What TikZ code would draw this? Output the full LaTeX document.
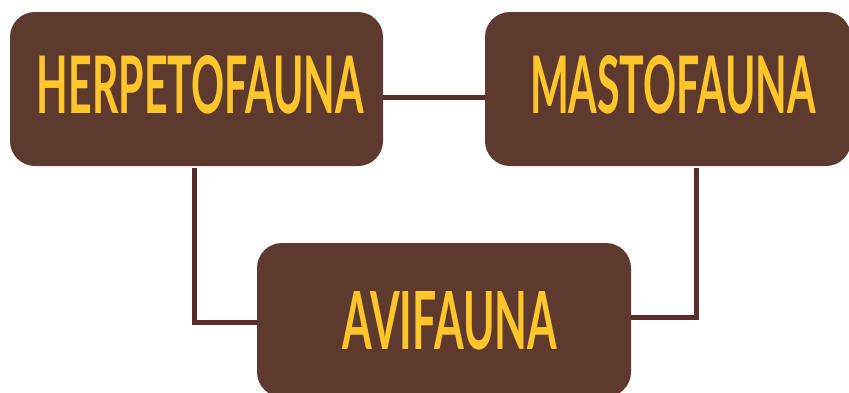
\documentclass[tikz,border=0pt]{standalone}
\usepackage{fontspec}
\newfontfamily\lab{Lato}
\definecolor{boxbrown}{HTML}{5E3A2E}
\definecolor{linebrown}{HTML}{5A2D2B}
\definecolor{labyellow}{HTML}{FFC62C}
\begin{document}
\begin{tikzpicture}[x=1pt,y=-1pt,
  fbox/.style={fill=boxbrown, rounded corners=25pt, minimum width=#1, minimum height=154pt, inner sep=0pt, draw=none},
  labtext/.style={text=labyellow, inner sep=0pt, font=\lab\bfseries},
  link/.style={draw=linebrown, line width=5pt, line join=miter}]
\useasboundingbox (0,0) rectangle (849,392);
\node[fbox=373pt] (H) at (196.5,89) {};
\node[fbox=366pt] (M) at (668,89) {};
\node[fbox=374pt] (A) at (444,320) {};
\node[labtext] (Ht) at (200.5,85) {\resizebox{327pt}{58pt}{HERPETOFAUNA}};
\node[labtext] (Mt) at (673,85) {\resizebox{286pt}{58pt}{MASTOFAUNA}};
\node[labtext] (At) at (450,321) {\resizebox{214pt}{58pt}{AVIFAUNA}};
\draw[link] ([yshift=-8pt]H.east) -- ([yshift=-8pt]M.west);
\draw[link] ([xshift=-2.5pt,yshift=-2pt]H.south) |- ([yshift=-2pt]A.west);
\draw[link] ([xshift=28pt,yshift=-2pt]M.south) |- ([yshift=3pt]A.east);
\end{tikzpicture}
\end{document}
